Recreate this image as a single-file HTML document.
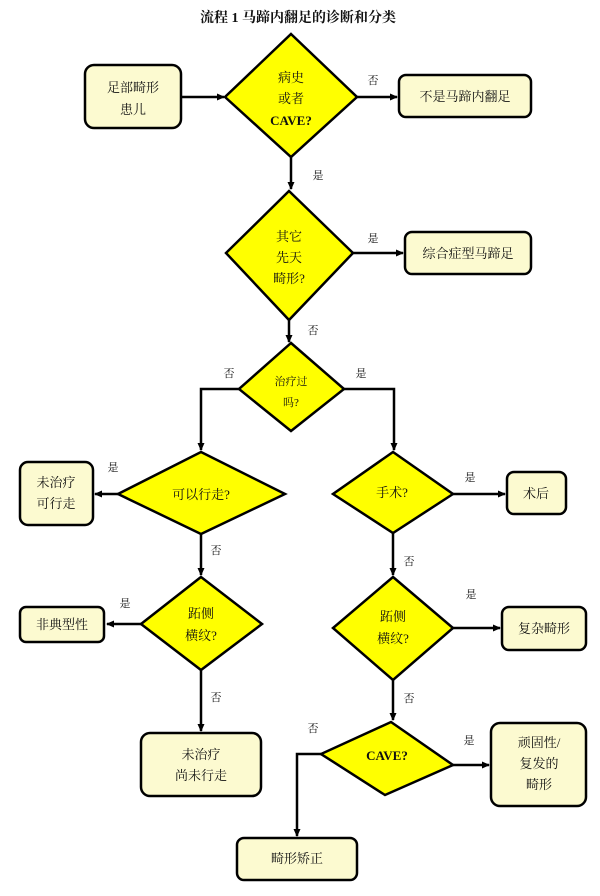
<!DOCTYPE html>
<html><head><meta charset="utf-8"><style>
html,body{margin:0;padding:0;background:#fff}
svg{display:block}
text{font-family:"Liberation Serif","Noto Serif CJK SC",serif;font-size:13px;fill:#111;text-anchor:middle}
.b{font-weight:bold}
.l{font-size:11px}
</style></head><body>
<svg width="600" height="896" viewBox="0 0 600 896" xmlns="http://www.w3.org/2000/svg">
<defs><marker id="a" markerWidth="8" markerHeight="8" refX="7" refY="4" orient="auto" markerUnits="userSpaceOnUse"><path d="M0,0.5 L8,4 L0,7.5 z" fill="#000"/></marker></defs>
<text x="298" y="22" class="b" style="font-size:14px">流程 1  马蹄内翻足的诊断和分类</text>
<g fill="#fcfad0" stroke="#000" stroke-width="2.5">
<rect x="85" y="65" width="96" height="63" rx="9"/>
<rect x="399" y="75" width="132" height="42" rx="7"/>
<rect x="405" y="232" width="126" height="42" rx="7"/>
<rect x="20" y="462" width="73" height="63" rx="8"/>
<rect x="507" y="472" width="59" height="42" rx="7"/>
<rect x="20" y="607" width="84" height="35" rx="6"/>
<rect x="502" y="607" width="84" height="43" rx="7"/>
<rect x="141" y="733" width="120" height="63" rx="9"/>
<rect x="491" y="723" width="95" height="83" rx="9"/>
<rect x="237" y="838" width="120" height="42" rx="7"/>
</g>
<g fill="#ffff00" stroke="#000" stroke-width="2.5" stroke-linejoin="miter">
<polygon points="291,34 357,97 291,157 225,97"/>
<polygon points="289,191 353,253 289,320 226,253"/>
<polygon points="291,343 344,389 291,431 239,389"/>
<polygon points="201,452 285,494 201,534 118,494"/>
<polygon points="393,452 453,494 393,533 333,494"/>
<polygon points="201,577 262,624 201,670 141,624"/>
<polygon points="393,577 453,628 393,680 333,628"/>
<polygon points="391,722 453,765 385,795 321,754"/>
</g>
<g fill="none" stroke="#000" stroke-width="2.5" marker-end="url(#a)">
<path d="M181,97 H224"/>
<path d="M357,97 H397"/>
<path d="M291,157 V189"/>
<path d="M353,253 H403"/>
<path d="M289,320 V342"/>
<path d="M239,389 H201 V450"/>
<path d="M344,389 H394 V450"/>
<path d="M118,494 H95"/>
<path d="M453,494 H505"/>
<path d="M201,534 V575"/>
<path d="M393,533 V575"/>
<path d="M141,624 H107"/>
<path d="M453,628 H500"/>
<path d="M201,670 V731"/>
<path d="M393,680 V720"/>
<path d="M453,765 H489"/>
<path d="M321,754 H297 V836"/>
</g>
<text x="133" y="92">足部畸形</text><text x="133" y="114">患儿</text>
<text x="291" y="82">病史</text><text x="291" y="103">或者</text><text x="291" y="125" class="b">CAVE?</text>
<text x="465" y="101">不是马蹄内翻足</text>
<text x="289" y="241">其它</text><text x="289" y="262">先天</text><text x="289" y="283">畸形?</text>
<text x="468" y="258">综合症型马蹄足</text>
<text x="291" y="385" class="l">治疗过</text><text x="291" y="406" class="l">吗?</text>
<text x="201" y="499">可以行走?</text>
<text x="392" y="497">手术?</text>
<text x="56" y="487">未治疗</text><text x="56" y="508">可行走</text>
<text x="536" y="498">术后</text>
<text x="201" y="618">跖侧</text><text x="201" y="640">横纹?</text>
<text x="393" y="621">跖侧</text><text x="393" y="643">横纹?</text>
<text x="62" y="629">非典型性</text>
<text x="544" y="633">复杂畸形</text>
<text x="201" y="759">未治疗</text><text x="201" y="780">尚未行走</text>
<text x="387" y="760" class="b">CAVE?</text>
<text x="539" y="747">顽固性/</text><text x="539" y="768">复发的</text><text x="539" y="789">畸形</text>
<text x="297" y="863">畸形矫正</text>
<g class="l">
<text x="373" y="84" class="l">否</text>
<text x="318" y="179" class="l">是</text>
<text x="373" y="242" class="l">是</text>
<text x="313" y="334" class="l">否</text>
<text x="229" y="377" class="l">否</text>
<text x="361" y="377" class="l">是</text>
<text x="113" y="471" class="l">是</text>
<text x="470" y="481" class="l">是</text>
<text x="216" y="554" class="l">否</text>
<text x="409" y="565" class="l">否</text>
<text x="125" y="607" class="l">是</text>
<text x="471" y="598" class="l">是</text>
<text x="216" y="701" class="l">否</text>
<text x="409" y="702" class="l">否</text>
<text x="313" y="732" class="l">否</text>
<text x="469" y="744" class="l">是</text>
</g>
</svg>
</body></html>
